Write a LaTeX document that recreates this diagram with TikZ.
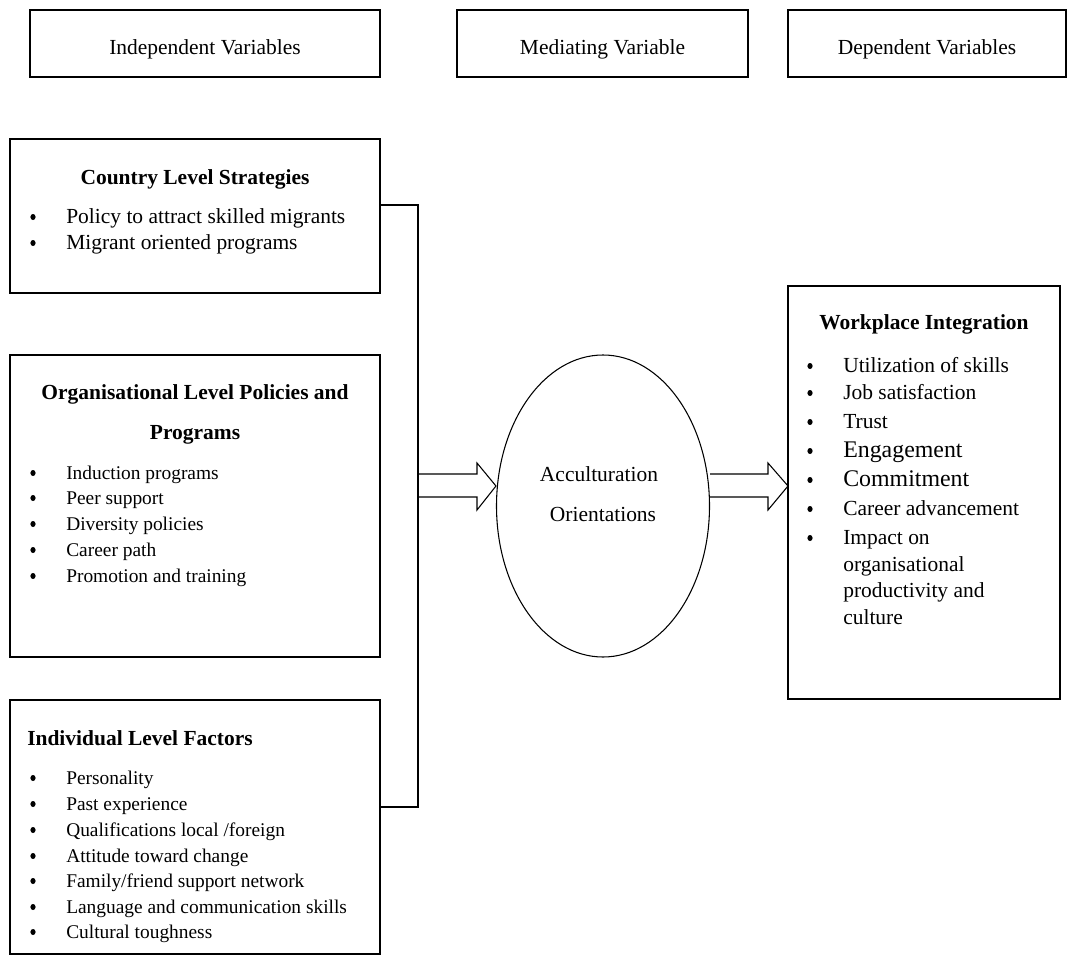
\documentclass[tikz,border=0pt]{standalone}
\usepackage{fontspec}
\setmainfont{Liberation Serif}
\usetikzlibrary{fit,shapes.geometric}

% one bullet line: name, bullet x, text x, y, text (style of the text in \bstyle)
\newcommand\bstyle{txt}
\newcommand\bline[5]{%
  \node[dot] (#1b) at (#2,#4) {};
  \node[\bstyle, anchor=mid west] (#1) at (#3,#4) {#5};}

\begin{document}
\begin{tikzpicture}[x=0.75pt,y=-0.75pt,
  box/.style={draw, line width=1.5pt, inner sep=0pt, outer sep=0pt},
  txt/.style={inner sep=0pt, yshift=-3pt, font=\fontsize{16.1}{19}\selectfont},
  sml/.style={inner sep=0pt, yshift=-3pt, font=\fontsize{14.55}{17}\selectfont},
  big/.style={inner sep=0pt, yshift=-3pt, font=\fontsize{17.9}{21}\selectfont},
  ttl/.style={inner sep=0pt, yshift=-3pt, font=\fontsize{16.1}{19}\selectfont\bfseries},
  hdr/.style={inner sep=0pt, yshift=-4.5pt, font=\fontsize{16.1}{19}\selectfont},
  dot/.style={ellipse, fill, inner sep=0pt, minimum width=3.9pt, minimum height=4.5pt, yshift=-0.75pt},
  conn/.style={line width=1.1pt},
  blockarrow/.style={line width=0.8pt, line join=miter}]
\useasboundingbox (0,0) rectangle (1067,956);

% column headers
\node[box, fit={(30,10) (380,77)}] (hind) {};
\node[box, fit={(457,10) (748,77)}] (hmed) {};
\node[box, fit={(788,10) (1066,77)}] (hdep) {};
\node[hdr] (hindt) at (hind.center) {Independent Variables};
\node[hdr] (hmedt) at (hmed.center) {Mediating Variable};
\node[hdr] (hdept) at (hdep.center) {Dependent Variables};

% independent variable boxes
\node[box, fit={(10,139) (380,293)}] (cls) {};
\node[box, fit={(10,355) (380,657)}] (olp) {};
\node[box, fit={(10,700) (380,954)}] (ilf) {};

\node[ttl, anchor=mid] (clst) at (195,177) {Country Level Strategies};
\bline{c1}{33}{66}{216}{Policy to attract skilled migrants}
\bline{c2}{33}{66}{242}{Migrant oriented programs}

\renewcommand\bstyle{sml}
\node[ttl, anchor=mid] (olpt1) at (195,392) {Organisational Level Policies and};
\node[ttl, anchor=mid] (olpt2) at (195,432) {Programs};
\bline{o1}{33}{66}{472}{Induction programs}
\bline{o2}{33}{66}{497}{Peer support}
\bline{o3}{33}{66}{523}{Diversity policies}
\bline{o4}{33}{66}{549}{Career path}
\bline{o5}{33}{66}{575}{Promotion and training}

\node[ttl, anchor=mid west] (ilft) at (27,738) {Individual Level Factors};
\bline{i1}{33}{66}{777}{Personality}
\bline{i2}{33}{66}{803}{Past experience}
\bline{i3}{33}{66}{829}{Qualifications local /foreign}
\bline{i4}{33}{66}{855}{Attitude toward change}
\bline{i5}{33}{66}{880}{Family/friend support network}
\bline{i6}{33}{66}{906}{Language and communication skills}
\bline{i7}{33}{66}{931}{Cultural toughness}
\renewcommand\bstyle{txt}

% bracket joining the independent variables
\coordinate (jt) at (418,205);
\coordinate (jb) at (418,807);
\draw[conn] (jt -| cls.east) -- (jt) -- (jb) -- (jb -| ilf.east);

% mediating variable
\node[draw, ellipse, line width=0.8pt, inner sep=0pt,
      minimum width=159.75pt, minimum height=226.5pt] (ell) at (603,506) {};
\node[txt, anchor=mid] (ell1) at (599,474) {Acculturation};
\node[txt, anchor=mid] (ell2) at (603,514) {Orientations};

% dependent variable box
\node[box, fit={(788,286) (1060,699)}] (wpi) {};
\node[ttl, anchor=mid] (wpit) at (924,322) {Workplace Integration};
\bline{w1}{810}{843}{365}{Utilization of skills}
\bline{w2}{810}{843}{392}{Job satisfaction}
\bline{w3}{810}{843}{421}{Trust}
\renewcommand\bstyle{big}
\bline{w4}{810}{843}{450}{Engagement}
\bline{w5}{810}{843}{479}{Commitment}
\renewcommand\bstyle{txt}
\bline{w6}{810}{843}{508}{Career advancement}
\bline{w7}{810}{843}{537}{Impact on}
\node[txt, anchor=mid west] (w7l2) at (843,564) {organisational};
\node[txt, anchor=mid west] (w7l3) at (843,590) {productivity and};
\node[txt, anchor=mid west] (w7l4) at (843,617) {culture};

% block arrows
\draw[blockarrow] (418,474) -- (477,474) -- (477,463) -- (ell.west |- 0,486)
  -- (477,510) -- (477,497) -- (418,497);
\draw[blockarrow] (710,474) -- (768,474) -- (768,463) -- (wpi.west |- 0,486)
  -- (768,510) -- (768,497) -- (710,497);
\end{tikzpicture}
\end{document}
